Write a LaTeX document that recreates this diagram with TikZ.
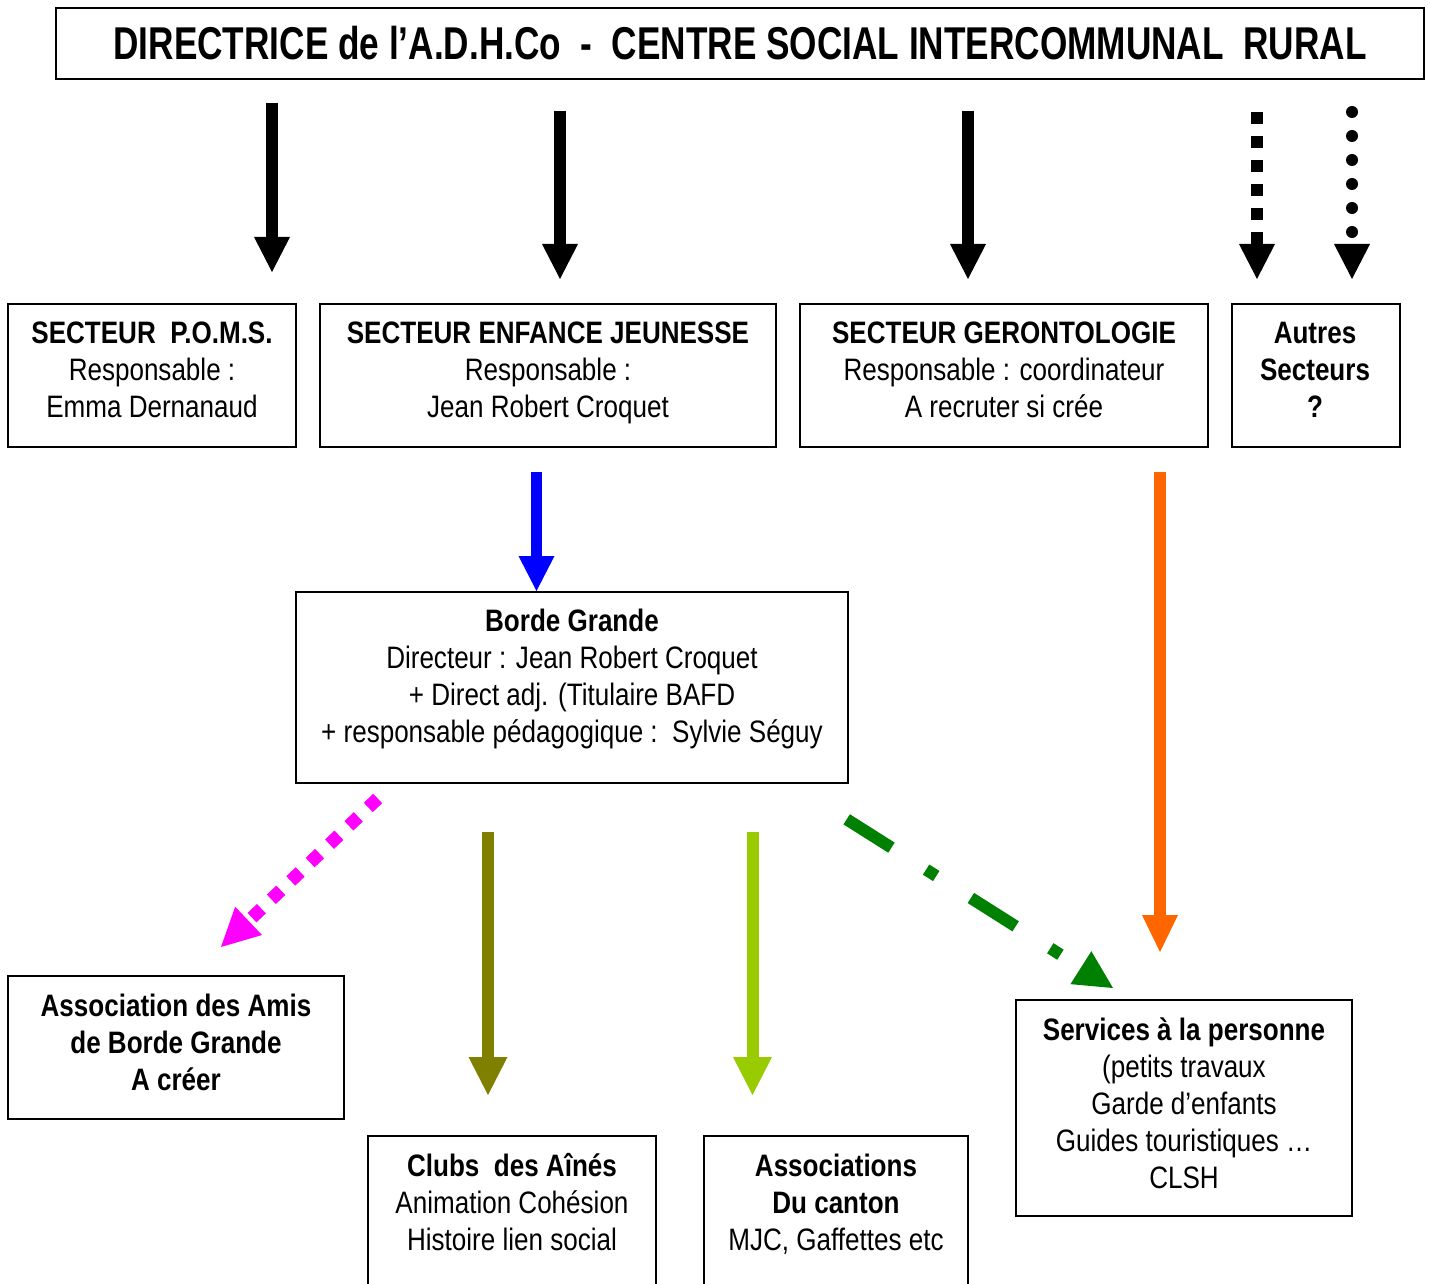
\documentclass[tikz,border=0pt]{standalone}
\usepackage{fontspec}
\setmainfont[FakeStretch=0.84]{Liberation Sans}
\newfontfamily\titlefont[FakeStretch=0.765]{Liberation Sans}
\usetikzlibrary{arrows.meta}
\definecolor{cblue}{HTML}{0000FF}
\definecolor{corange}{HTML}{FF6600}
\definecolor{colive}{HTML}{808000}
\definecolor{clime}{HTML}{99CC00}
\definecolor{cgreen}{HTML}{008000}
\definecolor{cmag}{HTML}{FF00FF}
\begin{document}
\begin{tikzpicture}[x=1pt,y=-1pt,
  frame/.style={draw,line width=2pt,inner sep=0pt,minimum height=143pt},
  txt/.style={align=center,inner sep=0pt,font=\fontsize{31}{37}\selectfont},
  bigarrow/.style={line width=12pt,-{Triangle[width=36pt,length=35pt,line width=0pt]}},
  colarrow/.style={line width=12pt,-{Triangle[width=39pt,length=38pt,line width=0pt]}}
]
\useasboundingbox[fill=white] (0,0) rectangle (1430,1284);

% frames
\node (titlebox) [frame,minimum width=1368pt,minimum height=71pt] at (740,43.5) {};
\node (pomsbox) [frame,minimum width=288pt] at (152,375.5) {};
\node (enfbox) [frame,minimum width=456pt] at (548,375.5) {};
\node (gerbox) [frame,minimum width=408pt] at (1004,375.5) {};
\node (autbox) [frame,minimum width=168pt] at (1316,375.5) {};
\node (bordebox) [frame,minimum width=552pt,minimum height=191pt] at (572,687.5) {};
\node (amisbox) [frame,minimum width=336pt] at (176,1047.5) {};
\node (clubsbox) [frame,minimum width=288pt,minimum height=184pt] at (512,1228) {};
\node (assocbox) [frame,minimum width=264pt,minimum height=184pt] at (836,1228) {};
\node (servbox) [frame,minimum width=336pt,minimum height=216pt] at (1184,1108) {};

% texts
\node (title) [inner sep=0pt,font=\titlefont\fontsize{46}{50}\selectfont\bfseries] at (740,43)
  {DIRECTRICE de l’A.D.H.Co\ \ -\ \ CENTRE SOCIAL INTERCOMMUNAL\ \ RURAL};
\node (poms) [txt] at (152,370) {\textbf{SECTEUR\ \ P.O.M.S.}\\Responsable :\\Emma Dernanaud};
\node (enf) [txt] at (548,373) {\textbf{SECTEUR ENFANCE JEUNESSE}\\Responsable :\\Jean Robert Croquet};
\node (ger) [txt] at (1004,370) {\textbf{SECTEUR GERONTOLOGIE}\\Responsable : coordinateur\\A recruter si crée};
\node (aut) [txt] at (1315,370) {\textbf{Autres}\\\textbf{Secteurs}\\\textbf{?}};
\node (borde) [txt] at (572,679) {\textbf{Borde Grande}\\Directeur : Jean Robert Croquet\\+ Direct adj. (Titulaire BAFD\\+ responsable pédagogique :\ \ Sylvie Séguy};
\node (amis) [txt] at (176,1042) {\textbf{Association des Amis}\\\textbf{de Borde Grande}\\\textbf{A créer}};
\node (clubs) [txt] at (512,1202) {\textbf{Clubs\ \ des Aînés}\\Animation Cohésion\\Histoire lien social};
\node (assoc) [txt] at (836,1204) {\textbf{Associations}\\\textbf{Du canton}\\MJC, Gaffettes etc};
\node (serv) [txt] at (1184,1103) {\textbf{Services à la personne}\\(petits travaux\\Garde d’enfants\\Guides touristiques …\\CLSH};

% arrow end points
\coordinate (a1s) at (272,103); \coordinate (a1e) at (272,272);
\coordinate (a2s) at (560,111); \coordinate (a2e) at (560,279);
\coordinate (a3s) at (968,111); \coordinate (a3e) at (968,279);
\coordinate (a4s) at (1257,112); \coordinate (a4e) at (1257,279);
\coordinate (a5s) at (1352,112); \coordinate (a5e) at (1352,279);
\coordinate (bls) at (536.5,472); \coordinate (ble) at (536.5,591);
\coordinate (ors) at (1160,472); \coordinate (ore) at (1160,952);
\coordinate (ols) at (488,832); \coordinate (ole) at (488,1095);
\coordinate (lis) at (752.5,832); \coordinate (lie) at (752.5,1095);
\coordinate (mgs) at (377.7,798.5); \coordinate (mge) at (221,947);
\coordinate (grs) at (846.7,819.3); \coordinate (gre) at (1113,988);

\draw[bigarrow] (a1s) -- (a1e);
\draw[bigarrow] (a2s) -- (a2e);
\draw[bigarrow] (a3s) -- (a3e);
\draw[bigarrow,dash pattern=on 12pt off 12pt] (a4s) -- (a4e);
\draw[bigarrow,line cap=round,dash pattern=on 0pt off 24pt] (a5s) -- (a5e);

\draw[bigarrow,line width=11.6pt,cblue] (bls) -- (ble);
\draw[bigarrow,line width=12.5pt,corange,-{Triangle[width=36pt,length=37pt,line width=0pt]}] (ors) -- (ore);
\draw[colarrow,colive] (ols) -- (ole);
\draw[colarrow,clime] (lis) -- (lie);
\draw[colarrow,line width=13pt,cmag,dash pattern=on 13pt off 13.7pt] (mgs) -- (mge);
\draw[colarrow,cgreen,dash pattern=on 53pt off 41pt on 12pt off 41pt] (grs) -- (gre);
\end{tikzpicture}
\end{document}
